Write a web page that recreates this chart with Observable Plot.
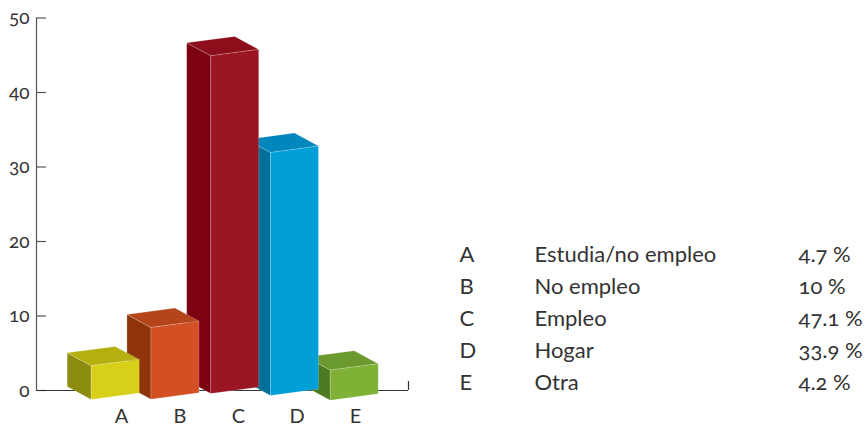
<!DOCTYPE html>
<html><head><meta charset="utf-8">
<script src="https://cdn.jsdelivr.net/npm/d3@7"></script>
<script src="https://cdn.jsdelivr.net/npm/@observablehq/plot@0.6"></script>
<style>
html,body{margin:0;padding:0;background:#fff}
svg{display:block;font-family:Lato,sans-serif;font-variant-numeric:oldstyle-nums;font-feature-settings:"onum" 1}
</style></head><body>
<div id="chart"></div>
<script>
const categories = ["A","B","C","D","E"];
const names = ["Estudia/no empleo","No empleo","Empleo","Hogar","Otra"];
const shares = [4.7,10,47.1,33.9,4.2];
const yTicks = [0,10,20,30,40,50];
const frontColors = ["#d8d018","#d35024","#9b1622","#009fd8","#7eb136"];
const sideColors  = ["#8c8c10","#8f3408","#7c0212","#006f9a","#4e7a22"];
const topColors   = ["#b5b010","#b4451a","#8b0e1a","#0087bd","#6a9a2e"];

// projection of the 3D columns, in scale units (x: one column pitch, y: percent)
const W = 866, H = 427, left = 36, y0px = 390, y50px = 17.5;
const pitch = 59.75, pxPerUnit = (y0px - y50px) / 50;
const X = px => (px - 114.7) / pitch;        // page pixel to x units
const Y = px => (y0px - px) / pxPerUnit;     // page pixel to y units
const half = 24 / pitch, depthX = 24 / pitch;
const rise = 6.4 / pxPerUnit, depthY = 13 / pxPerUnit, heightK = 7.17 / pxPerUnit;
const drop = [9, 8.7, 3, 5, 9.7].map(d => d / pxPerUnit);

const faces = [];
categories.forEach((c, i) => {
  const l = i - half, r = i + half, b = -drop[i], t = b + shares[i] * heightK;
  const poly = (face, fill, pts) => pts.concat([pts[0]]).forEach(([x, y]) => faces.push({id: c + face, order: -i, fill, x, y}));
  poly("side", sideColors[i], [[l, b], [l, t], [l - depthX, t + depthY], [l - depthX, b + depthY]]);
  poly("top", topColors[i], [[l, t], [r, t + rise], [r - depthX, t + rise + depthY], [l - depthX, t + depthY]]);
  poly("front", frontColors[i], [[l, b], [r, b + rise], [r, t + rise], [l, t]]);
});
faces.sort((a, b) => a.order - b.order);

const axisColor = "#555";
const labelX = categories.map((c, i) => X(121 + 58.5 * i));
const rows = categories.map((c, i) => ({c, n: names[i], s: shares[i] + " %", y: Y(254 + 32 * i)}));
const tableText = {y: "y", textAnchor: "start", fontSize: 22, fill: "#333", letterSpacing: 0.5};

const chart = Plot.plot({
  width: W, height: H,
  marginLeft: left, marginRight: 0, marginTop: y50px, marginBottom: H - y0px,
  x: {domain: [X(left), X(W)], axis: null, label: null},
  y: {domain: [0, 50], axis: null, label: null},
  marks: [
    Plot.ruleX([X(left)], {y1: 0, y2: 50, stroke: axisColor, strokeWidth: 1.2}),
    Plot.ruleY(yTicks, {x1: X(left), x2: X(46), stroke: axisColor, strokeWidth: 1.2}),
    Plot.text(yTicks, {x: X(left), y: d => d, dx: -7, textAnchor: "end", fontSize: 19, fill: "#333", text: d => String(d)}),
    Plot.ruleY([0], {x1: X(left), x2: X(408), stroke: "#333", strokeWidth: 1.2}),
    Plot.ruleX([X(408)], {y1: 0, y2: 1.2, stroke: "#333", strokeWidth: 1.2}),
    Plot.line(faces, {x: "x", y: "y", z: "id", fill: "fill", stroke: "#fff", strokeOpacity: 0.3, strokeWidth: 0.6, curve: "linear"}),
    Plot.text(categories, {x: (d, i) => labelX[i], y: 0, dy: 26, text: d => d, fontSize: 20, fill: "#333"}),
    Plot.text(rows, {...tableText, x: X(459), text: "c"}),
    Plot.text(rows, {...tableText, x: X(534), text: "n"}),
    Plot.text(rows, {...tableText, x: X(798), text: "s"})
  ]
});
document.getElementById("chart").append(chart);
</script>
</body></html>
